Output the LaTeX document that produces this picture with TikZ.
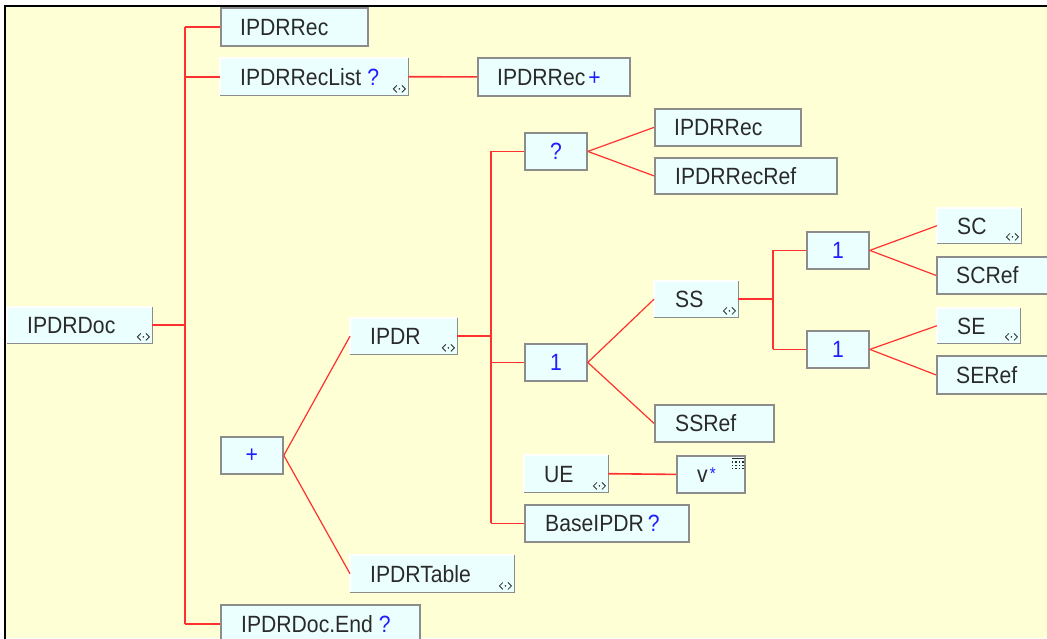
\documentclass[tikz,border=0pt]{standalone}
\usepackage{fontspec}
\newfontfamily\boxfont{Liberation Sans}[FakeStretch=0.9]
\definecolor{paper}{HTML}{FFFFD6}
\definecolor{boxfill}{HTML}{EBFFFF}
\definecolor{edgegray}{HTML}{8C8C8C}
\definecolor{wirered}{HTML}{FF3030}
\definecolor{symblue}{HTML}{1E1EFF}
\definecolor{ink}{HTML}{2A2A2A}

\tikzset{
  dims/.style args={#1/#2}{minimum width=#1pt, minimum height=#2pt},
  plainbox/.style={draw=edgegray, line width=1.8pt, fill=boxfill, inner sep=0pt, anchor=north west},
  raisedbox/.style={fill=boxfill, inner sep=0pt, anchor=north west},
  lbl/.style={font=\boxfont\fontsize{23.5}{28}\selectfont, text=ink, inner sep=0pt, anchor=base west},
  sym/.style={font=\boxfont\fontsize{23.5}{28}\selectfont, text=symblue, inner sep=0pt, anchor=base},
  wire/.style={draw=wirered, line width=1.6pt},
  slant/.style={draw=wirered, line width=1.2pt},
  tagicon/.pic={
    \draw[ink, line width=0.8pt] (-2.5,-3.5) -- (-6,0) -- (-2.5,3.5);
    \draw[ink, line width=0.8pt] (2.5,-3.5) -- (6,0) -- (2.5,3.5);
    \fill[ink] (0,0) circle (0.9pt);
  },
  gridicon/.pic={
    \fill[ink] (-6,-6) rectangle (6,-4.6);
    \foreach \r in {0,1,2} \foreach \c in {0,1,2,3}
      \fill[ink] (-6+\c*3.4,-2.6+\r*3.2) rectangle +(1.6,1.5);
  },
}

\begin{document}
\begin{tikzpicture}[x=1pt,y=-1pt]
\clip (0,0) rectangle (1047,638);
% sheet and its frame
\fill[white] (0,0) rectangle (1047,638);
\fill[paper] (5,6) rectangle (1047,638);
\draw[black, line width=2.4pt] (5,640) -- (5,6) -- (1050,6);

% element boxes
\node[raisedbox, dims=145/36] (doc)     at (7,307)   {};
\node[plainbox,  dims=147/38] (rec1)    at (220,7)   {};
\node[raisedbox, dims=188/37] (reclist) at (220,58)  {};
\node[plainbox,  dims=152/38] (recplus) at (477,57)  {};
\node[plainbox,  dims=62/37]  (plus)    at (220,436) {};
\node[raisedbox, dims=107/36] (ipdr)    at (350,318) {};
\node[raisedbox, dims=164/37] (table)   at (350,555) {};
\node[plainbox,  dims=199/38] (docend)  at (220,604) {};
\node[plainbox,  dims=62/37]  (q)       at (524,132) {};
\node[plainbox,  dims=146/37] (rec2)    at (654,108) {};
\node[plainbox,  dims=182/36] (recref)  at (654,157) {};
\node[plainbox,  dims=62/37]  (one)     at (524,343) {};
\node[raisedbox, dims=84/36]  (ss)      at (654,281) {};
\node[plainbox,  dims=119/37] (ssref)   at (654,404) {};
\node[plainbox,  dims=62/37]  (onea)    at (806,231) {};
\node[plainbox,  dims=62/37]  (oneb)    at (806,330) {};
\node[raisedbox, dims=84/35]  (sc)      at (937,208) {};
\node[plainbox,  dims=130/37] (scref)   at (936,256) {};
\node[raisedbox, dims=83/35]  (se)      at (937,308) {};
\node[plainbox,  dims=130/38] (seref)   at (936,355) {};
\node[raisedbox, dims=84/37]  (ue)      at (524,455) {};
\node[plainbox,  dims=68/37]  (v)       at (676,455) {};
\node[plainbox,  dims=164/37] (base)    at (524,504) {};

% raised edges and expand markers
\foreach \n in {doc,reclist,ipdr,table,ss,sc,se,ue} {
  \draw[white, line width=1.4pt] (\n.south west) -- (\n.north west) -- (\n.north east);
  \draw[edgegray, line width=1.6pt] (\n.north east) -- (\n.south east) -- (\n.south west);
  \pic at ([xshift=-9pt,yshift=6.5pt]\n.south east) {tagicon};
}
\pic at ([xshift=-8pt,yshift=-9pt]v.north east) {gridicon};

% labels
\node[lbl] (doc-t)     at ([xshift=20pt,yshift=-8.5pt]doc.west)     {IPDRDoc};
\node[lbl] (rec1-t)    at ([xshift=20pt,yshift=-8.5pt]rec1.west)    {IPDRRec};
\node[lbl] (reclist-t) at ([xshift=20pt,yshift=-8.5pt]reclist.west) {IPDRRecList\kern6pt\textcolor{symblue}{?}};
\node[lbl] (recplus-t) at ([xshift=20pt,yshift=-8.5pt]recplus.west) {IPDRRec\kern3pt\textcolor{symblue}{+}};
\node[lbl] (ipdr-t)    at ([xshift=20pt,yshift=-8.5pt]ipdr.west)    {IPDR};
\node[lbl] (table-t)   at ([xshift=20pt,yshift=-8.5pt]table.west)   {IPDRTable};
\node[lbl] (docend-t)  at ([xshift=21pt,yshift=-8.5pt]docend.west)  {IPDRDoc.End\kern6pt\textcolor{symblue}{?}};
\node[lbl] (rec2-t)    at ([xshift=20pt,yshift=-8.5pt]rec2.west)    {IPDRRec};
\node[lbl] (recref-t)  at ([xshift=21pt,yshift=-8.5pt]recref.west)  {IPDRRecRef};
\node[lbl] (ss-t)      at ([xshift=21pt,yshift=-8.5pt]ss.west)      {SS};
\node[lbl] (ssref-t)   at ([xshift=21pt,yshift=-8.5pt]ssref.west)   {SSRef};
\node[lbl] (sc-t)      at ([xshift=20pt,yshift=-8.5pt]sc.west)      {SC};
\node[lbl] (scref-t)   at ([xshift=20pt,yshift=-8.5pt]scref.west)   {SCRef};
\node[lbl] (se-t)      at ([xshift=20pt,yshift=-8.5pt]se.west)      {SE};
\node[lbl] (seref-t)   at ([xshift=20pt,yshift=-8.5pt]seref.west)   {SERef};
\node[lbl] (ue-t)      at ([xshift=20pt,yshift=-8.5pt]ue.west)      {UE};
\node[lbl] (v-t)       at ([xshift=21pt,yshift=-8.5pt]v.west)
  {v\kern2pt\textcolor{symblue}{\raisebox{3pt}{\fontsize{17}{17}\selectfont *}}};
\node[lbl] (base-t)    at ([xshift=21pt,yshift=-8.5pt]base.west)    {BaseIPDR\kern4pt\textcolor{symblue}{?}};
\node[sym] (q-t)       at ([yshift=-8.5pt]q.center)    {?};
\node[sym] (one-t)     at ([yshift=-8.5pt]one.center)  {1};
\node[sym] (onea-t)    at ([yshift=-8.5pt]onea.center) {1};
\node[sym] (oneb-t)    at ([yshift=-8.5pt]oneb.center) {1};
\node[sym, anchor=center] (plus-t) at (plus.center) {+};

% connectors
\coordinate (busa) at (185,0);
\coordinate (busb) at (491,0);
\coordinate (busc) at (773,0);

\draw[wire] (doc.east) -- (doc.east -| busa);
\draw[wire] (busa |- rec1.west) -- (busa |- docend.west);
\draw[wire] (busa |- rec1.west) -- (rec1.west);
\draw[wire] (busa |- reclist.west) -- (reclist.west);
\draw[wire] (busa |- docend.west) -- (docend.west);
\draw[wire] (reclist.east) -- (recplus.west);

\draw[slant] (plus.east) -- (ipdr.west);
\draw[slant] (plus.east) -- (table.west);

\draw[wire] (ipdr.east) -- (ipdr.east -| busb);
\draw[wire] (busb |- q.west) -- (busb |- base.west);
\draw[wire] (busb |- q.west) -- (q.west);
\draw[wire] (busb |- one.west) -- (one.west);
\draw[wire] (busb |- base.west) -- (base.west);

\draw[slant] (q.east) -- (rec2.west);
\draw[slant] (q.east) -- (recref.west);
\draw[slant] (one.east) -- (ss.west);
\draw[slant] (one.east) -- (ssref.west);

\draw[wire] (ss.east) -- (ss.east -| busc);
\draw[wire] (busc |- onea.west) -- (busc |- oneb.west);
\draw[wire] (busc |- onea.west) -- (onea.west);
\draw[wire] (busc |- oneb.west) -- (oneb.west);

\draw[slant] (onea.east) -- (sc.west);
\draw[slant] (onea.east) -- (scref.west);
\draw[slant] (oneb.east) -- (se.west);
\draw[slant] (oneb.east) -- (seref.west);

\draw[wire] (ue.east) -- (v.west);
\end{tikzpicture}
\end{document}
